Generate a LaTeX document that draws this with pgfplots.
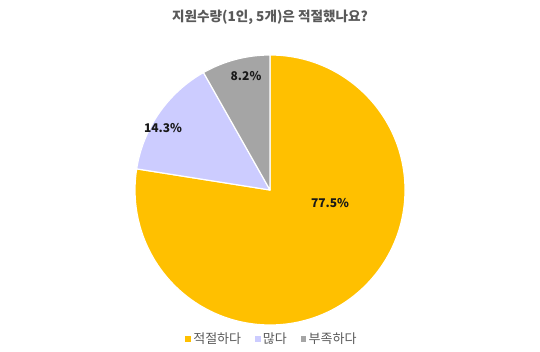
\documentclass[border=0pt]{standalone}
\usepackage{fontspec}
\setmainfont{Noto Sans CJK KR}
\usepackage{pgfplots}
\usepackage{pgfplotstable}
\pgfplotsset{compat=1.18}
\definecolor{cA}{HTML}{FFC000}
\definecolor{cB}{HTML}{CCCCFF}
\definecolor{cC}{HTML}{A5A5A5}
\definecolor{tgray}{HTML}{595959}
\pgfplotstableread[col sep=comma]{
label,value
적절하다,77.5
많다,14.3
부족하다,8.2
}\piedata
\pgfplotstablegetelem{0}{value}\of\piedata \let\va\pgfplotsretval
\pgfplotstablegetelem{1}{value}\of\piedata \let\vb\pgfplotsretval
\pgfplotstablegetelem{2}{value}\of\piedata \let\vc\pgfplotsretval
\pgfmathsetmacro{\aA}{90-3.6*\va}
\pgfmathsetmacro{\aB}{\aA-3.6*\vb}
\pgfmathsetmacro{\aC}{\aB-3.6*\vc}
\begin{document}
\begin{tikzpicture}
\begin{axis}[
  scale only axis, width=540pt, height=352pt,
  xmin=0, xmax=540, ymin=0, ymax=352,
  hide axis, clip=false,
  legend columns=3,
  legend style={draw=none, fill=none, at={(axis cs:272,13)}, anchor=center,
    font=\fontsize{13}{14}\selectfont\color{tgray},
    /tikz/every even column/.append style={column sep=12pt},
    /tikz/every odd column/.append style={column sep=1pt}},
  legend cell align=left,
]
\path (axis cs:0,0) rectangle (axis cs:540,352);
\addlegendimage{only marks, mark=square*, mark size=2.4pt, mark options={fill=cA, draw=cA}}
\addlegendentry{적절하다}
\addlegendimage{only marks, mark=square*, mark size=2.4pt, mark options={fill=cB, draw=cB}}
\addlegendentry{많다}
\addlegendimage{only marks, mark=square*, mark size=2.4pt, mark options={fill=cC, draw=cC}}
\addlegendentry{부족하다}
\fill[cA, draw=white, line width=1.2pt, line join=round] (axis cs:270,162) -- ++(90:135pt) arc[start angle=90, end angle=\aA, radius=135pt] -- cycle;
\fill[cB, draw=white, line width=1.2pt, line join=round] (axis cs:270,162) -- ++(\aA:135pt) arc[start angle=\aA, end angle=\aB, radius=135pt] -- cycle;
\fill[cC, draw=white, line width=1.2pt, line join=round] (axis cs:270,162) -- ++(\aB:135pt) arc[start angle=\aB, end angle=\aC, radius=135pt] -- cycle;
\node[font=\fontsize{12}{13}\selectfont\bfseries, text=black!90] at (axis cs:330,149) {\va\%};
\node[font=\fontsize{12}{13}\selectfont\bfseries, text=black!90] at (axis cs:163,224) {\vb\%};
\node[font=\fontsize{12}{13}\selectfont\bfseries, text=black!90] at (axis cs:246,276) {\vc\%};
\node[font=\fontsize{13.6}{15}\selectfont\bfseries, text=tgray] at (axis cs:270,335) {지원수량(1인, 5개)은 적절했나요?};
\end{axis}
\end{tikzpicture}
\end{document}
